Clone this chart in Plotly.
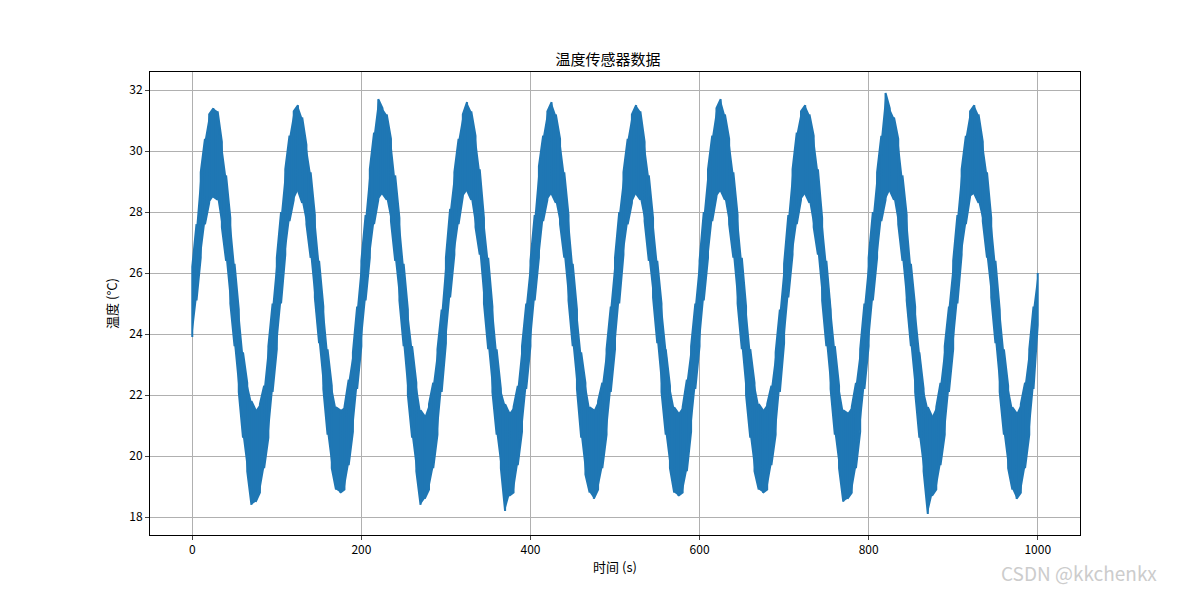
import plotly.graph_objects as go

# time samples (s), every 5 s
times = [i * 5 for i in range(201)]
# upper / lower edges of the noisy band
upper = [
 26.2, 27.6, 29.3, 30.4, 31.2, 31.4, 31.3, 30.3, 29.2, 27.8, 26.3, 24.8, 23.4, 22.4, 21.8, 21.5, 21.7, 22.3, 23.6, 25.0,
 26.5, 28.0, 29.4, 30.5, 31.3, 31.5, 31.1, 30.2, 29.3, 27.9, 26.4, 24.9, 23.5, 22.3, 21.6, 21.5, 21.6, 22.5, 23.4, 24.9,
 26.4, 27.9, 29.4, 30.6, 31.7, 31.4, 31.2, 30.4, 29.2, 27.8, 26.3, 24.8, 23.6, 22.4, 21.5, 21.3, 21.7, 22.4, 23.5, 24.8,
 26.5, 28.1, 29.3, 30.4, 31.2, 31.6, 31.3, 30.5, 29.4, 27.8, 26.5, 24.9, 23.5, 22.2, 21.7, 21.4, 21.6, 22.3, 23.6, 25.0,
 26.4, 27.9, 29.5, 30.5, 31.3, 31.6, 31.2, 30.4, 29.3, 27.9, 26.3, 24.8, 23.4, 22.4, 21.6, 21.5, 21.8, 22.4, 23.5, 24.9,
 26.5, 28.0, 29.3, 30.4, 31.2, 31.5, 31.3, 30.3, 29.2, 27.8, 26.4, 25.0, 23.5, 22.3, 21.6, 21.4, 21.6, 22.5, 23.6, 25.0,
 26.4, 28.0, 29.4, 30.5, 31.4, 31.7, 31.2, 30.4, 29.3, 27.9, 26.5, 24.9, 23.5, 22.4, 21.7, 21.5, 21.7, 22.3, 23.4, 24.8,
 26.3, 27.9, 29.4, 30.6, 31.3, 31.5, 31.2, 30.5, 29.4, 27.8, 26.4, 24.8, 23.6, 22.3, 21.5, 21.4, 21.6, 22.4, 23.5, 25.0,
 26.5, 28.0, 29.3, 30.5, 31.9, 31.4, 31.1, 30.4, 29.2, 27.9, 26.3, 24.9, 23.4, 22.2, 21.6, 21.3, 21.6, 22.4, 23.6, 24.9,
 26.4, 27.9, 29.4, 30.5, 31.3, 31.5, 31.2, 30.3, 29.3, 27.8, 26.4, 24.8, 23.5, 22.3, 21.6, 21.4, 21.7, 22.4, 23.5, 24.9,
 26.0]
lower = [
 23.9, 25.1, 26.5, 27.6, 28.3, 28.5, 28.4, 27.5, 26.4, 25.0, 23.6, 22.1, 20.6, 19.5, 18.4, 18.5, 18.8, 19.6, 20.6, 22.1,
 23.5, 25.0, 26.6, 27.7, 28.4, 28.7, 28.3, 27.6, 26.5, 25.2, 23.7, 22.2, 20.7, 19.6, 18.9, 18.8, 18.9, 19.7, 20.8, 22.2,
 23.6, 25.1, 26.5, 27.6, 28.4, 28.6, 28.4, 27.7, 26.4, 25.1, 23.6, 22.0, 20.6, 19.5, 18.4, 18.6, 18.9, 19.6, 20.7, 22.1,
 23.7, 25.2, 26.6, 27.6, 28.5, 28.7, 28.4, 27.5, 26.6, 25.0, 23.5, 22.1, 20.7, 19.6, 18.2, 18.7, 18.8, 19.7, 20.8, 22.2,
 23.6, 25.1, 26.5, 27.7, 28.4, 28.6, 28.3, 27.6, 26.5, 25.1, 23.6, 22.2, 20.6, 19.4, 18.8, 18.6, 18.9, 19.6, 20.7, 22.1,
 23.5, 25.0, 26.6, 27.6, 28.3, 28.6, 28.4, 27.7, 26.4, 25.2, 23.7, 22.1, 20.7, 19.6, 18.8, 18.7, 18.8, 19.5, 20.8, 22.2,
 23.6, 25.1, 26.5, 27.7, 28.5, 28.7, 28.4, 27.6, 26.5, 25.0, 23.5, 22.0, 20.6, 19.5, 18.9, 18.8, 18.9, 19.7, 20.7, 22.1,
 23.7, 25.2, 26.6, 27.6, 28.4, 28.6, 28.3, 27.5, 26.6, 25.1, 23.6, 22.2, 20.7, 19.6, 18.5, 18.6, 18.8, 19.6, 20.8, 22.2,
 23.6, 25.1, 26.5, 27.7, 28.4, 28.7, 28.4, 27.6, 26.4, 25.1, 23.6, 22.1, 20.6, 19.5, 18.1, 18.7, 18.9, 19.7, 20.7, 22.1,
 23.5, 25.0, 26.6, 27.6, 28.5, 28.6, 28.3, 27.7, 26.5, 25.2, 23.7, 22.1, 20.7, 19.6, 18.9, 18.6, 18.8, 19.6, 20.7, 22.2,
 24.3]

xs, ys = [], []
for i, t in enumerate(times):
    if i % 2 == 0:
        xs += [t, t]; ys += [lower[i], upper[i]]
    else:
        xs += [t, t]; ys += [upper[i], lower[i]]

C = "#1f77b4"
fig = go.Figure()
fig.add_trace(go.Scatter(x=times + times[::-1], y=upper + lower[::-1], fill="toself",
                         fillcolor=C, line=dict(width=0), mode="lines", hoverinfo="skip"))
fig.add_trace(go.Scatter(x=xs, y=ys, mode="lines", line=dict(color=C, width=2)))

ax = dict(showline=True, linecolor="black", mirror=True, ticks="outside", ticklen=4,
          showgrid=True, gridcolor="#b0b0b0", zeroline=False, tickfont=dict(size=12, color="black"))
fig.update_layout(
    width=1200, height=600, showlegend=False, plot_bgcolor="white", paper_bgcolor="white",
    font=dict(family="Noto Sans CJK SC", color="black"),
    margin=dict(l=142, r=128, t=64, b=73),
    title=dict(text="温度传感器数据", x=0.5, xanchor="center", y=0.905, yanchor="bottom", font=dict(size=15)),
    xaxis=dict(ax, range=[-50, 1050], tickvals=[0, 200, 400, 600, 800, 1000],
               title=dict(text="时间 (s)", font=dict(size=13), standoff=6)),
    yaxis=dict(ax, range=[17.41, 32.59], tickvals=[18, 20, 22, 24, 26, 28, 30, 32],
               title=dict(text="温度 (°C)", font=dict(size=13), standoff=8)),
    annotations=[dict(text="CSDN @kkchenkx", xref="paper", yref="paper", x=1.085, y=-0.115,
                      xanchor="right", yanchor="bottom", showarrow=False,
                      font=dict(size=19, color="#cccccc"))],
)
fig.write_html("out.html")
